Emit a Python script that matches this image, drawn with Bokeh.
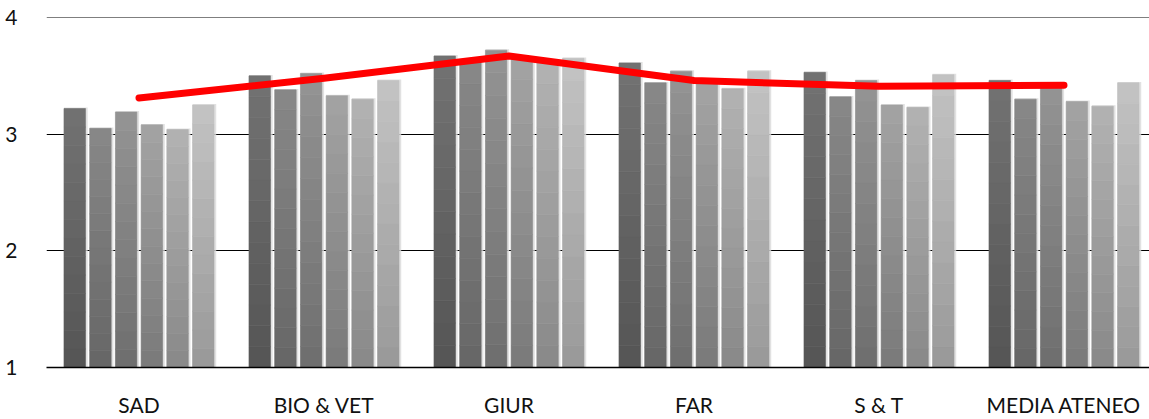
from bokeh.plotting import figure
from bokeh.models import Range1d, FixedTicker, ColumnDataSource, Span
from bokeh.embed import file_html
from bokeh.resources import INLINE

categories = ["SAD", "BIO & VET", "GIUR", "FAR", "S & T", "MEDIA ATENEO"]
s1 = [3.22, 3.50, 3.67, 3.61, 3.53, 3.46]
s2 = [3.05, 3.38, 3.62, 3.44, 3.32, 3.30]
s3 = [3.19, 3.52, 3.72, 3.54, 3.46, 3.43]
s4 = [3.08, 3.33, 3.66, 3.43, 3.25, 3.28]
s5 = [3.04, 3.30, 3.62, 3.39, 3.23, 3.24]
s6 = [3.25, 3.46, 3.65, 3.54, 3.51, 3.44]
media = [3.31, 3.48, 3.67, 3.46, 3.41, 3.42]
y_ticks = [1, 2, 3, 4]

series = [s1, s2, s3, s4, s5, s6]
# gradient colours (bottom, top) per series
grad = [((0x55,) * 3, (0x72,) * 3),
        ((0x66,) * 3, (0x88,) * 3),
        ((0x6e,) * 3, (0x94,) * 3),
        ((0x7a,) * 3, (0xa3,) * 3),
        ((0x88,) * 3, (0xb3,) * 3),
        ((0x99,) * 3, (0xc3,) * 3)]

W, H = 1149, 419
LEFT, TOP, BOTTOM = 46, 17, 50
unit = 185.0
x_end = -0.5 + (W - LEFT) / unit

p = figure(width=W, height=H, x_range=Range1d(-0.5, x_end), y_range=Range1d(1, 4),
           output_backend="svg", toolbar_location=None,
           min_border_left=LEFT, min_border_right=0, min_border_top=TOP,
           min_border_bottom=BOTTOM)
p.outline_line_color = None
p.background_fill_color = "white"

xs = list(range(len(categories)))
pitch = 0.139
bw = 0.116
N = 14

def hexc(rgb):
    return "#%02x%02x%02x" % tuple(int(round(c)) for c in rgb)

p.add_layout(Span(location=4, dimension="width", line_color="black", line_width=1,
                  level="underlay"))

for i, s in enumerate(series):
    xpos = [x + (i - 2.5) * pitch for x in xs]
    # soft shadow
    p.vbar(x=[x + 0.006 for x in xpos], width=bw + 0.012, bottom=1,
           top=[v + 0.008 for v in s], fill_color="#d9d9d9", line_color=None, fill_alpha=0.8)
    bx, bt, bb, bc = [], [], [], []
    lo, hi = grad[i]
    for x, v in zip(xpos, s):
        for k in range(N):
            f = (k + 0.5) / N
            bx.append(x)
            bb.append(1 + (v - 1) * k / N)
            bt.append(1 + (v - 1) * (k + 1) / N)
            bc.append(hexc([lo[j] + (hi[j] - lo[j]) * f for j in range(3)]))
    src = ColumnDataSource(dict(x=bx, top=bt, bottom=bb, c=bc))
    p.vbar(x="x", width=bw, top="top", bottom="bottom", fill_color="c", line_color="c",
           line_width=0.6, source=src)

p.line(xs, media, line_color="#ff0000", line_width=7, line_cap="round", line_join="round")

# axes
p.yaxis.ticker = FixedTicker(ticks=y_ticks)
p.ygrid.ticker = FixedTicker(ticks=y_ticks)
p.ygrid.grid_line_color = "black"
p.ygrid.grid_line_width = 1
p.xgrid.grid_line_color = None
p.yaxis.axis_line_color = None
p.yaxis.major_tick_line_color = None
p.yaxis.minor_tick_line_color = None
p.yaxis.major_label_text_font = "Lato"
p.yaxis.major_label_text_font_size = "21px"
p.yaxis.major_label_text_color = "#111111"
p.yaxis.major_label_standoff = 23

p.xaxis.ticker = FixedTicker(ticks=xs)
p.xaxis.major_label_overrides = {x: c for x, c in zip(xs, categories)}
p.xaxis.axis_line_color = "black"
p.xaxis.axis_line_width = 1.5
p.xaxis.major_tick_line_color = None
p.xaxis.major_tick_out = 0
p.xaxis.minor_tick_line_color = None
p.xaxis.minor_tick_out = 0
p.xaxis.major_label_text_font = "Lato"
p.xaxis.major_label_text_font_size = "21px"
p.xaxis.major_label_text_color = "#111111"
p.xaxis.major_label_standoff = 24

open("out.html", "w").write(file_html(p, INLINE))
